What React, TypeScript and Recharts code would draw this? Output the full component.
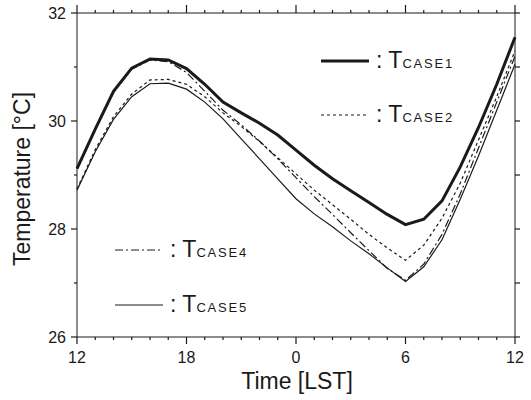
import { LineChart, Line, XAxis, YAxis } from "recharts";

const hours = [0, 1, 2, 3, 4, 5, 6, 7, 8, 9, 10, 11, 12, 13, 14, 15, 16, 17, 18, 19, 20, 21, 22, 23, 24];
const tCase1 = [29.12, 29.85, 30.55, 30.98, 31.15, 31.13, 30.97, 30.68, 30.35, 30.15, 29.96, 29.74, 29.46, 29.18, 28.93, 28.71, 28.49, 28.27, 28.08, 28.18, 28.52, 29.15, 29.88, 30.68, 31.55];
const tCase2 = [28.74, 29.47, 30.08, 30.5, 30.76, 30.77, 30.68, 30.45, 30.15, 29.9, 29.62, 29.32, 29.02, 28.72, 28.45, 28.18, 27.9, 27.65, 27.42, 27.7, 28.2, 28.85, 29.65, 30.45, 31.3];
const tCase4 = [29.12, 29.84, 30.53, 30.96, 31.13, 31.1, 30.9, 30.55, 30.2, 29.93, 29.63, 29.3, 28.95, 28.6, 28.27, 27.93, 27.6, 27.27, 27.05, 27.35, 27.9, 28.65, 29.5, 30.35, 31.2];
const tCase5 = [28.72, 29.43, 30.03, 30.45, 30.69, 30.7, 30.59, 30.35, 30.04, 29.67, 29.3, 28.93, 28.56, 28.28, 28.04, 27.78, 27.54, 27.28, 27.03, 27.3, 27.8, 28.55, 29.35, 30.2, 31.05];

const xMajor = [0, 6, 12, 18, 24];
const xTickLabels = ["12", "18", "0", "6", "12"];
const yMajor = [26, 28, 30, 32];
const yAll = [26, 27, 28, 29, 30, 31, 32];

const data = hours.map((h, i) => ({ h, c1: tCase1[i], c2: tCase2[i], c4: tCase4[i], c5: tCase5[i] }));

const ink = "#1a1a1a";
const font = "'Liberation Sans', Arial, sans-serif";
const M = 4; // tickMargin used by all axes, tickSize is 0 and ticks are drawn here

// tick renderers: draw the tick mark (long for major, short for minor) and the label
const BottomTick = ({ x, y, payload }: any) => {
  const major = xMajor.includes(payload.value);
  const y0 = y - M;
  return (
    <g>
      <line x1={x} x2={x} y1={y0} y2={y0 + (major ? 7 : 3)} stroke={ink} strokeWidth={1.2} />
      {major && (
        <text x={x} y={y0 + 15} dy="0.71em" textAnchor="middle" fontFamily={font} fontSize={16} fill={ink}>
          {xTickLabels[xMajor.indexOf(payload.value)]}
        </text>
      )}
    </g>
  );
};

const TopTick = ({ x, y, payload }: any) => {
  const major = xMajor.includes(payload.value);
  const y0 = y + M;
  return <line x1={x} x2={x} y1={y0} y2={y0 - (major ? 8 : 3)} stroke={ink} strokeWidth={1.2} />;
};

const LeftTick = ({ x, y, payload }: any) => {
  const major = yMajor.includes(payload.value);
  const x0 = x + M;
  return (
    <g>
      <line x1={x0} x2={x0 - (major ? 6 : 3)} y1={y} y2={y} stroke={ink} strokeWidth={1.2} />
      {major && (
        <text x={x0 - 11} y={y} dy="0.355em" textAnchor="end" fontFamily={font} fontSize={16} fill={ink}>
          {payload.value}
        </text>
      )}
    </g>
  );
};

const RightTick = ({ x, y }: any) => {
  const x0 = x - M;
  return <line x1={x0} x2={x0 + 5} y1={y} y2={y} stroke={ink} strokeWidth={1.2} />;
};

function LegendItem({ x, y, dash, width, label }: { x: number; y: number; dash?: string; width: number; label: string }) {
  return (
    <g>
      <line x1={x} x2={x + 48} y1={y} y2={y} stroke={ink} strokeWidth={width} strokeDasharray={dash} />
      <text x={x + 55} y={y + 7} fontFamily={font} fontSize={23} fill={ink}>
        : T
        <tspan fontSize={13} letterSpacing={1.8}>{label}</tspan>
      </text>
    </g>
  );
}

export default function App() {
  return (
    <div style={{ position: "absolute", left: 0, top: 0, width: 531, height: 400, background: "#fff" }}>
      <LineChart width={531} height={400} data={data} margin={{ top: 3, right: 6, bottom: 23, left: 17 }}>
        <XAxis xAxisId="b" dataKey="h" type="number" domain={[0, 24]} ticks={hours} interval={0}
          height={40} tickSize={0} tickMargin={M} tickLine={false} stroke={ink} tick={BottomTick} />
        <XAxis xAxisId="t" dataKey="h" orientation="top" type="number" domain={[0, 24]} ticks={hours} interval={0}
          height={10} tickSize={0} tickMargin={M} tickLine={false} stroke={ink} tick={TopTick} />
        <YAxis yAxisId="l" type="number" domain={[26, 32]} ticks={yAll} interval={0}
          width={60} tickSize={0} tickMargin={M} tickLine={false} stroke={ink} tick={LeftTick} />
        <YAxis yAxisId="r" orientation="right" type="number" domain={[26, 32]} ticks={yAll} interval={0}
          width={10} tickSize={0} tickMargin={M} tickLine={false} stroke={ink} tick={RightTick} />
        <Line xAxisId="b" yAxisId="l" dataKey="c1" stroke={ink} strokeWidth={3} dot={false} isAnimationActive={false} />
        <Line xAxisId="t" yAxisId="r" dataKey="c2" stroke={ink} strokeWidth={1.2} strokeDasharray="3 3" dot={false} isAnimationActive={false} />
        <Line xAxisId="b" yAxisId="l" dataKey="c4" stroke={ink} strokeWidth={1.2} strokeDasharray="8 3 2 3" dot={false} isAnimationActive={false} />
        <Line xAxisId="t" yAxisId="r" dataKey="c5" stroke={ink} strokeWidth={1.2} dot={false} isAnimationActive={false} />
      </LineChart>
      <svg width={531} height={400} style={{ position: "absolute", left: 0, top: 0, pointerEvents: "none" }}>
        <LegendItem x={321} y={61} width={3} label="CASE1" />
        <LegendItem x={321} y={115} width={1.2} dash="3 3" label="CASE2" />
        <LegendItem x={115} y={250} width={1.2} dash="8 3 2 3" label="CASE4" />
        <LegendItem x={115} y={305} width={1.2} label="CASE5" />
        <text x={297} y={389} textAnchor="middle" fontFamily={font} fontSize={23} fill={ink}>
          Time [LST]
        </text>
        <text x={0} y={0} transform="translate(30,179) rotate(-90)" textAnchor="middle" fontFamily={font} fontSize={23} fill={ink}>
          Temperature [°C]
        </text>
      </svg>
    </div>
  );
}
